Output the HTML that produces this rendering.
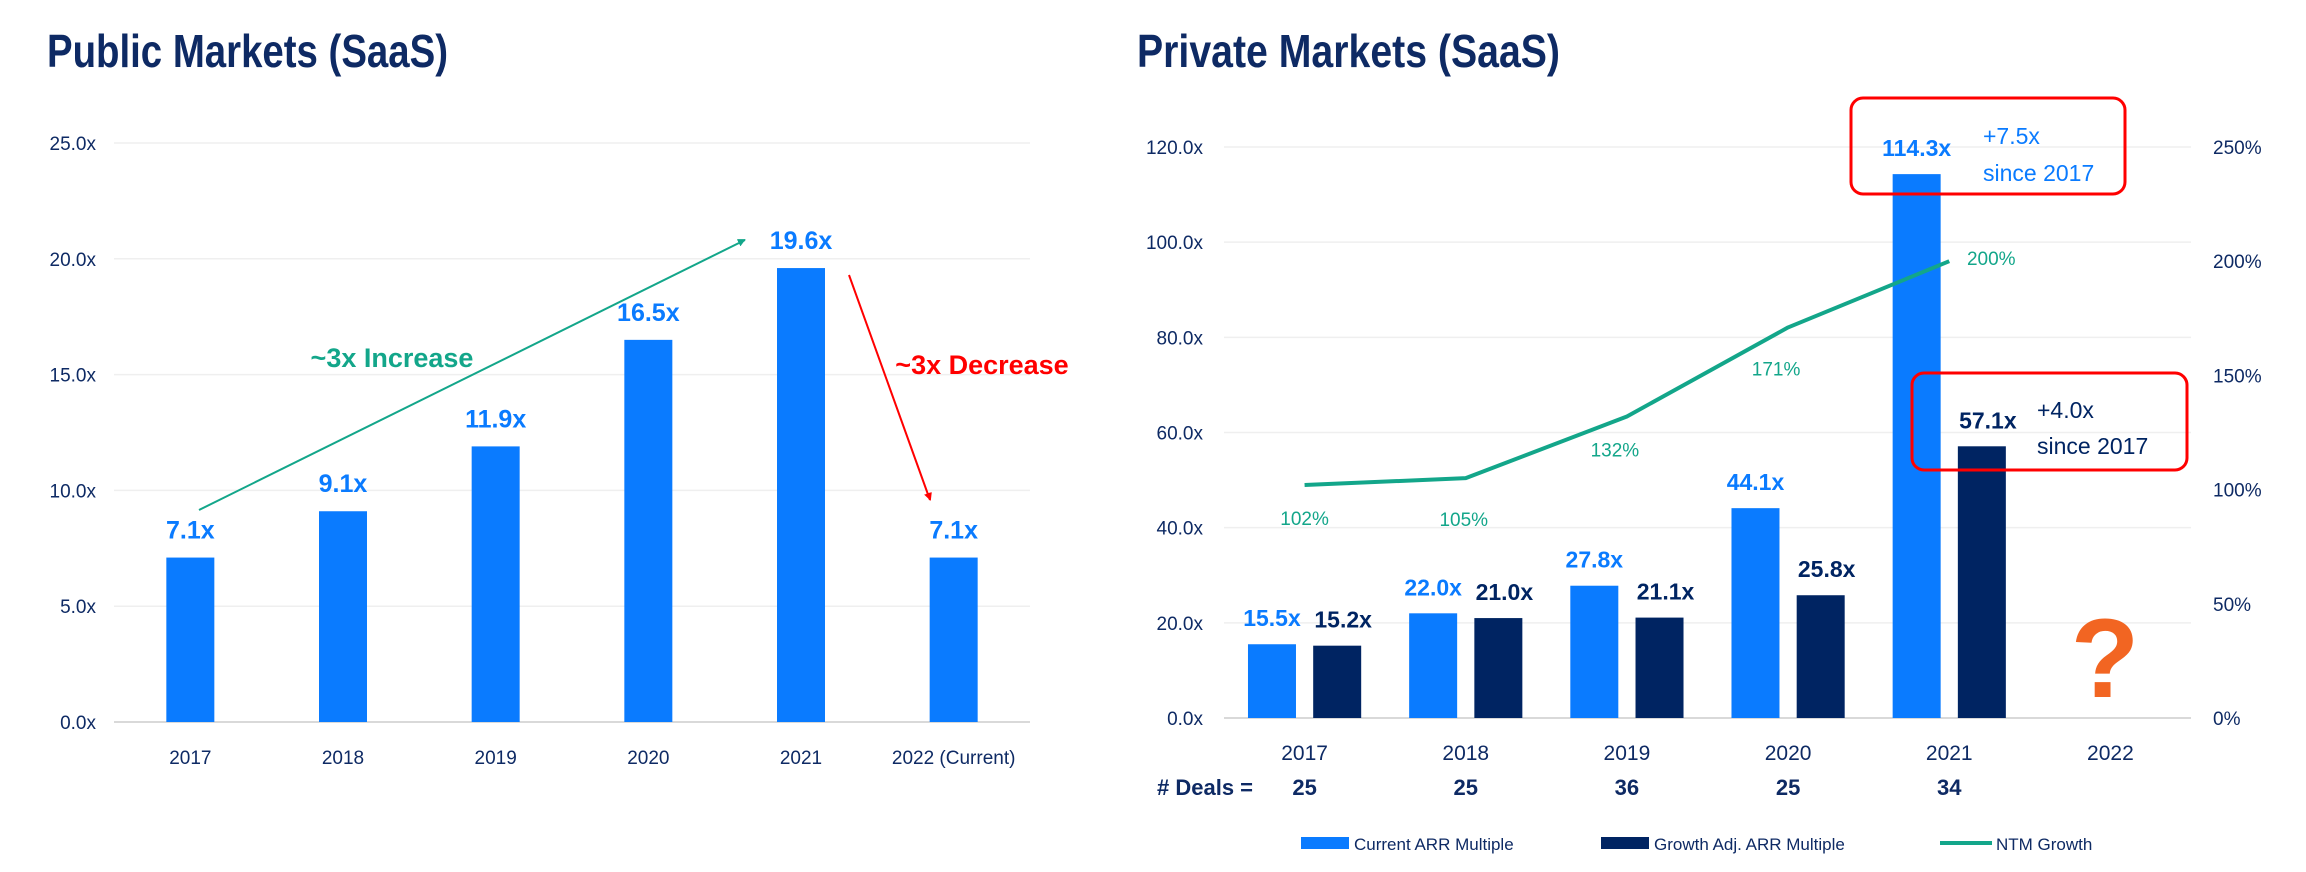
<!DOCTYPE html>
<html><head><meta charset="utf-8"><style>
html,body{margin:0;padding:0;background:#fff;}
svg{display:block;font-family:"Liberation Sans",sans-serif;}
</style></head><body>
<svg id="c" width="2306" height="872" viewBox="0 0 2306 872" xmlns="http://www.w3.org/2000/svg">
<text x="47" y="67" font-size="46" font-weight="bold" fill="#0e2a64" textLength="401" lengthAdjust="spacingAndGlyphs">Public Markets (SaaS)</text>
<text x="1137" y="67" font-size="46" font-weight="bold" fill="#0e2a64" textLength="423" lengthAdjust="spacingAndGlyphs">Private Markets (SaaS)</text>
<g id="pub"></g><g id="priv"></g>
</svg>
<script>
const NS='http://www.w3.org/2000/svg';
const pubCats=['2017','2018','2019','2020','2021','2022 (Current)'];
const pubVals=[7.1,9.1,11.9,16.5,19.6,7.1];
const pubTicks=[0,5,10,15,20,25];
const privCats=['2017','2018','2019','2020','2021','2022'];
const privCurrent=[15.5,22.0,27.8,44.1,114.3,null];
const privAdj=[15.2,21.0,21.1,25.8,57.1,null];
const privGrowth=[102,105,132,171,200];
const privDeals=['25','25','36','25','34'];
const privTicks=[0,20,40,60,80,100,120];
const pctTicks=[0,50,100,150,200,250];
const BLUE='#0a7bff',NAVY='#002462',TEAL='#13a68a',INK='#0e2a64';
function mk(p,tag,a,txt){const e=document.createElementNS(NS,tag);for(const k in a)e.setAttribute(k,a[k]);if(txt!=null)e.textContent=txt;p.appendChild(e);return e;}
// PUBLIC
const pub=document.getElementById('pub');
const pL=114,pR=1030,pT=143,pB=722,pMax=25;
const py=v=>pB-(v/pMax)*(pB-pT);
const pBand=(pR-pL)/pubCats.length;
const pcx=i=>pL+pBand*(i+0.5);
pubTicks.forEach(t=>{
 let g=mk(pub,'line',{x1:pL,x2:pR,y1:py(t),y2:py(t),stroke:t===0?'#d9d9d9':'#efefef','stroke-width':t===0?2:1.5});
 
 let l=mk(pub,'text',{x:96,y:py(t)+7,'text-anchor':'end','font-size':19,fill:INK},t.toFixed(1)+'x');
 
});
pubVals.forEach((v,i)=>{
 let r=mk(pub,'rect',{x:pcx(i)-24,y:py(v),width:48,height:pB-py(v),fill:BLUE});
 
 let t=mk(pub,'text',{x:pcx(i),y:py(v)-19,'text-anchor':'middle','font-size':25,'font-weight':'bold',fill:BLUE},v.toFixed(1)+'x');
 
 let c=mk(pub,'text',{x:pcx(i),y:764,'text-anchor':'middle','font-size':19,fill:INK},pubCats[i]);
 
});
const defs=mk(document.getElementById('c'),'defs',{});
const m1=mk(defs,'marker',{id:'ag',markerWidth:8,markerHeight:8,refX:7,refY:4,orient:'auto',markerUnits:'userSpaceOnUse'});
mk(m1,'path',{d:'M0,0 L8,4 L0,8 z',fill:TEAL,transform:'scale(1.8) translate(-3.5,-2)'});
const m2=mk(defs,'marker',{id:'ar',markerWidth:8,markerHeight:8,refX:7,refY:4,orient:'auto',markerUnits:'userSpaceOnUse'});
mk(m2,'path',{d:'M0,0 L8,4 L0,8 z',fill:'#ff0000',transform:'scale(1.8) translate(-3.5,-2)'});
let a1=mk(pub,'line',{x1:199,y1:510,x2:745,y2:240,stroke:TEAL,'stroke-width':2,'marker-end':'url(#ag)'});

let a2=mk(pub,'line',{x1:849,y1:275,x2:930,y2:500,stroke:'#ff0000','stroke-width':2,'marker-end':'url(#ar)'});

let tI=mk(pub,'text',{x:392,y:367,'text-anchor':'middle','font-size':27,'font-weight':'bold',fill:TEAL},'~3x Increase');

let tD=mk(pub,'text',{x:982,y:374,'text-anchor':'middle','font-size':27,'font-weight':'bold',fill:'#ff0000'},'~3x Decrease');

// PRIVATE
const pv=document.getElementById('priv');
const qL=1224,qR=2191,qT=147,qB=718,qMax=120,rMax=250;
const qy=v=>qB-(v/qMax)*(qB-qT);
const ry=v=>qB-(v/rMax)*(qB-qT);
const qBand=(qR-qL)/privCats.length;
const qcx=i=>qL+qBand*(i+0.5);
privTicks.forEach(t=>{
 let g=mk(pv,'line',{x1:qL,x2:qR,y1:qy(t),y2:qy(t),stroke:t===0?'#d9d9d9':'#efefef','stroke-width':t===0?2:1.5});
 
 let l=mk(pv,'text',{x:1203,y:qy(t)+7,'text-anchor':'end','font-size':19,fill:INK},t.toFixed(1)+'x');
 
});
pctTicks.forEach(t=>{
 let l=mk(pv,'text',{x:2213,y:ry(t)+7,'font-size':19,fill:INK},t+'%');
 
});
privCats.forEach((c,i)=>{
 if(privCurrent[i]!=null){
  const v=privCurrent[i],x=qcx(i)-32.6;
  let r=mk(pv,'rect',{x:x-24,y:qy(v),width:48,height:qB-qy(v),fill:BLUE});
  
  let t=mk(pv,'text',{x:x,y:qy(v)-18,'text-anchor':'middle','font-size':23,'font-weight':'bold',fill:BLUE},v.toFixed(1)+'x');
  
 }
 if(privAdj[i]!=null){
  const v=privAdj[i],x=qcx(i)+32.6;
  let r=mk(pv,'rect',{x:x-24,y:qy(v),width:48,height:qB-qy(v),fill:NAVY});
  
  let t=mk(pv,'text',{x:x+6,y:qy(v)-18,'text-anchor':'middle','font-size':23,'font-weight':'bold',fill:NAVY},v.toFixed(1)+'x');
  
 }
 let xl=mk(pv,'text',{x:qcx(i),y:760,'text-anchor':'middle','font-size':21,fill:INK},c);
 
 if(privDeals[i]){
  let d=mk(pv,'text',{x:qcx(i),y:795,'text-anchor':'middle','font-size':22,'font-weight':'bold',fill:INK},privDeals[i]);
  
 }
});
let dl=mk(pv,'text',{x:1157,y:795,'font-size':22,'font-weight':'bold',fill:INK},'# Deals =');

const pts=privGrowth.map((v,i)=>qcx(i)+','+ry(v)).join(' ');
let ln=mk(pv,'polyline',{points:pts,fill:'none',stroke:TEAL,'stroke-width':4,'stroke-linejoin':'round'});

const gOff=[[0,40],[-2,48],[-12,40],[-12,48],[42,4]];
privGrowth.forEach((v,i)=>{
 let t=mk(pv,'text',{x:qcx(i)+gOff[i][0],y:ry(v)+gOff[i][1],'text-anchor':'middle','font-size':19,fill:TEAL},v+'%');
 
});
let b1=mk(pv,'rect',{x:1851,y:98,width:274,height:96,rx:12,fill:'none',stroke:'#ff0000','stroke-width':3});

let b1a=mk(pv,'text',{x:1983,y:144,'font-size':23,fill:BLUE},'+7.5x');

let b1b=mk(pv,'text',{x:1983,y:181,'font-size':23,fill:BLUE},'since 2017');

let b2=mk(pv,'rect',{x:1912,y:373,width:275,height:97,rx:12,fill:'none',stroke:'#ff0000','stroke-width':3});

let b2a=mk(pv,'text',{x:2037,y:418,'font-size':23,fill:NAVY},'+4.0x');

let b2b=mk(pv,'text',{x:2037,y:454,'font-size':23,fill:NAVY},'since 2017');

let q=mk(pv,'text',{x:2105,y:697,'text-anchor':'middle','font-size':112,'font-weight':'bold',fill:'#f26522'},'?');

// legend
const lg=[[1301,'rect',BLUE,'Current ARR Multiple'],[1601,'rect',NAVY,'Growth Adj. ARR Multiple'],[1940,'line',TEAL,'NTM Growth']];
lg.forEach(e=>{
 let s;
 if(e[1]==='rect') s=mk(pv,'rect',{x:e[0],y:837,width:48,height:12,fill:e[2]});
 else s=mk(pv,'line',{x1:e[0],x2:e[0]+52,y1:843,y2:843,stroke:e[2],'stroke-width':4});
 
 let t=mk(pv,'text',{x:e[0]+(e[1]==='rect'?53:56),y:850,'font-size':17,fill:INK},e[3]);
 
});
</script>
</body></html>
